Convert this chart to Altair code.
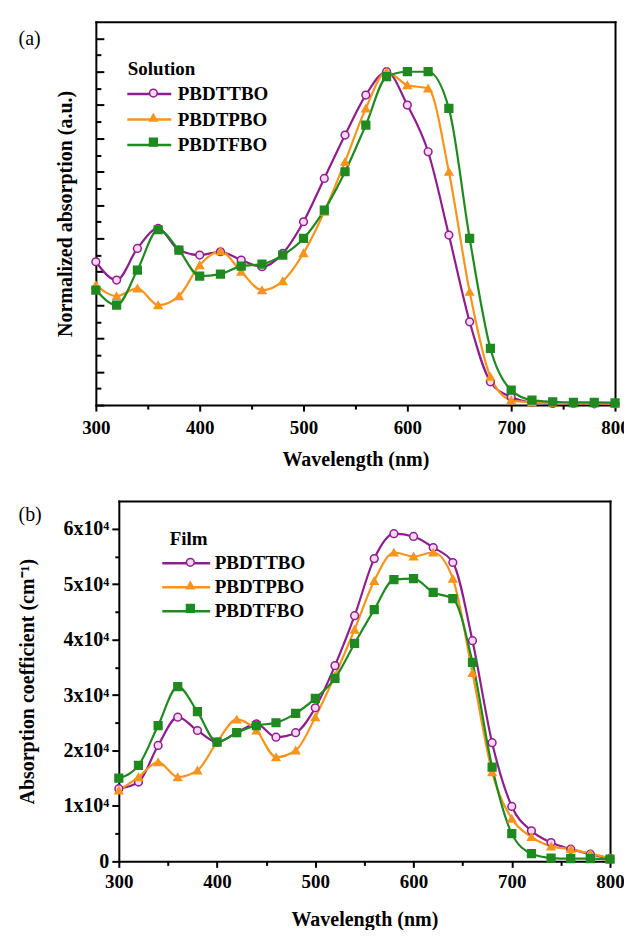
import altair as alt
import pandas as pd

FONT = "Liberation Serif"

wavelength = [300, 320, 340, 360, 380, 400, 420, 440, 460, 480, 500, 520, 540,
              560, 580, 600, 620, 640, 660, 680, 700, 720, 740, 760, 780, 800]

series_names = ["PBDTTBO", "PBDTPBO", "PBDTFBO"]
line_colors = ["#8E1E8E", "#F7941D", "#1F8A1F"]
marker_fills = ["#F6D8F2", "#F7941D", "#1F8A1F"]
marker_shapes = ["circle", "triangle-up", "square"]

# (a) Solution, normalized absorption
sol_ttbo = [0.43, 0.375, 0.47, 0.53, 0.465, 0.45, 0.46, 0.435, 0.415, 0.455, 0.55, 0.68, 0.81,
            0.93, 1.0, 0.90, 0.76, 0.51, 0.25, 0.07, 0.024, 0.008, 0.005, 0.005, 0.004, 0.004]
sol_tpbo = [0.36, 0.327, 0.35, 0.30, 0.327, 0.42, 0.462, 0.40, 0.345, 0.372, 0.456, 0.58, 0.73,
            0.89, 1.0, 0.96, 0.95, 0.70, 0.34, 0.085, 0.015, 0.008, 0.006, 0.005, 0.005, 0.004]
sol_tfbo = [0.345, 0.30, 0.405, 0.526, 0.465, 0.387, 0.393, 0.417, 0.423, 0.45, 0.50, 0.585, 0.70,
            0.84, 0.985, 1.0, 1.0, 0.89, 0.50, 0.17, 0.045, 0.015, 0.01, 0.008, 0.008, 0.007]

# (b) Film, absorption coefficient (cm^-1)
film_ttbo = [13100, 14300, 20900, 26000, 23600, 21500, 23200, 24800, 22400, 23200, 27700, 35300, 44300,
             54600, 59100, 58600, 56600, 53900, 39800, 21400, 9900, 5500, 3400, 2200, 1300, 500]
film_tpbo = [12800, 15200, 17900, 15200, 16400, 21500, 25600, 23600, 18800, 20000, 26000, 33500, 41800,
             50600, 55700, 55000, 55700, 51000, 34000, 16100, 7700, 4400, 2700, 2200, 1400, 600]
film_tfbo = [15000, 17300, 24500, 31500, 27000, 21500, 23200, 24500, 25000, 26700, 29400, 33000, 39300,
             45400, 50800, 51000, 48500, 47400, 35900, 17000, 5000, 1400, 600, 500, 500, 400]

# line-legend keys differ invisibly from marker-legend keys so the two legends stay separate
line_keys = [n + "\u200b" for n in series_names]


def long_table(cols):
    rows = []
    for name, key, vals in zip(series_names, line_keys, cols):
        for w, v in zip(wavelength, vals):
            rows.append({"wl": w, "val": v, "series": name, "series_l": key})
    return pd.DataFrame(rows)


df_a = long_table([sol_ttbo, sol_tpbo, sol_tfbo])
df_b = long_table([film_ttbo, film_tpbo, film_tfbo])

LEG_COMMON = dict(orient="none", padding=0, labelFont=FONT, labelFontSize=19, labelFontWeight="bold",
                  titleFont=FONT, titleFontSize=19, titleFontWeight="bold",
                  labelColor="black", titleColor="black")

NOAX = dict(labels=False, title=None, grid=False)
ORIGIN_X = 98  # nominal page x of every panel's group origin (used for relative placements)
TAG_LEFT = 20  # nominal page x of the "(a)" / "(b)" tags


def panel(df, width, shift, height, ydom, ymajor, yminor, ytitle, ylabels, yinward,
          leg_title, leg_title_left, leg_line_left, leg_line_right, leg_text_left, leg_y,
          row_pad, title_pad, tag, tag_y, x_label_pad, x_title_pad, y_title_pad):
    xscale = alt.Scale(domain=[300, 800], nice=False, zero=False, range=[shift, width])
    yscale = alt.Scale(domain=ydom, nice=False, zero=False)
    base = alt.Chart(df)
    off = -shift

    x_major = alt.Axis(orient="bottom", values=list(range(300, 801, 100)), tickSize=6, tickWidth=2,
                       domainWidth=2, domainCap="square", labelPadding=x_label_pad, labelFlush=False,
                       labelFontSize=19, title="Wavelength (nm)", titlePadding=x_title_pad, grid=False)
    if ylabels:
        y_major = alt.Axis(values=ymajor, orient="left", offset=off, tickSize=7, tickWidth=2,
                           domainWidth=2, domainCap="square", labelFlush=False, labelFontSize=20,
                           labelExpr="datum.value == 0 ? '0' : format(datum.value / 10000, 'd') + 'x10\u2074'",
                           labelPadding=3, title=ytitle, titlePadding=y_title_pad, grid=False)
    else:
        y_major = alt.Axis(values=ymajor, orient="left", offset=off, ticks=False, labels=False,
                           domainWidth=2, domainCap="square",
                           title=ytitle, titlePadding=y_title_pad, grid=False)

    # legend geometry (line symbol is a custom path, r = 9 px)
    leg_x = leg_title_left - ORIGIN_X
    c = leg_title_left + 9
    p0 = (leg_line_left - c) / 9.0
    p1 = (leg_line_right - c) / 9.0
    line_path = "M%.3f,0H%.3f" % (p0, p1)
    label_off = leg_text_left - (leg_title_left + 18)
    mid = (leg_line_left + leg_line_right) / 2.0

    lines = base.mark_line(interpolate="monotone", strokeWidth=2.2).encode(
        x=alt.X("wl:Q", scale=xscale, axis=x_major),
        y=alt.Y("val:Q", scale=yscale, axis=y_major),
        color=alt.Color("series_l:N", scale=alt.Scale(domain=line_keys, range=line_colors),
                        legend=alt.Legend(title=leg_title, legendX=leg_x, legendY=leg_y,
                                          symbolType=line_path, symbolSize=324,
                                          symbolStrokeWidth=2.5, rowPadding=row_pad,
                                          labelOffset=label_off, titlePadding=title_pad, **LEG_COMMON)),
    )

    pts = base.mark_point(filled=True, size=60, strokeWidth=1.5, opacity=1).encode(
        x=alt.X("wl:Q", scale=xscale, axis=None),
        y=alt.Y("val:Q", scale=yscale, axis=None),
        shape=alt.Shape("series:N", scale=alt.Scale(domain=series_names, range=marker_shapes),
                        legend=alt.Legend(title="\u00a0", legendX=mid - 3.87 - ORIGIN_X, legendY=leg_y,
                                          labelExpr="'\u00a0'", symbolSize=60,
                                          symbolStrokeWidth=1.5, rowPadding=row_pad, labelOffset=6,
                                          titlePadding=title_pad, **LEG_COMMON)),
        fill=alt.Fill("series:N", scale=alt.Scale(domain=series_names, range=marker_fills), legend=None),
        stroke=alt.Stroke("series:N", scale=alt.Scale(domain=series_names, range=line_colors), legend=None),
    )

    # box top / right edges and minor ticks; the panel tag rides on the tick axis as its title
    tag_style = dict(title=tag, titleAngle=0, titleAlign="left", titleBaseline="top", titleY=tag_y,
                     titleFontWeight="normal", titleFontSize=20, labels=False, grid=False, domain=False)
    x_top = alt.Axis(orient="top", ticks=False, domainWidth=2, domainCap="square", **NOAX)
    x_minor = alt.Axis(orient="bottom", values=list(range(350, 800, 100)), tickSize=4, tickWidth=2,
                       domain=False, **NOAX)
    y_right = alt.Axis(orient="right", ticks=False, domainWidth=2, domainCap="square", **NOAX)
    if yinward:
        # axis group sits at x = 0 (offset -width on a right axis)
        y_t1 = alt.Axis(values=ymajor, orient="right", offset=-width, tickSize=8, tickWidth=2,
                        titleX=TAG_LEFT - ORIGIN_X, **tag_style)
        y_t2 = alt.Axis(values=yminor, orient="right", offset=-width, tickSize=5, tickWidth=2,
                        domain=False, **NOAX)
    else:
        # axis group sits at x = shift
        y_t1 = alt.Axis(values=yminor, orient="left", offset=off, tickSize=4, tickWidth=2,
                        titleX=TAG_LEFT - ORIGIN_X - shift, **tag_style)
        y_t2 = None

    def ghost(xax, yax):
        return base.mark_point(opacity=0, size=1).encode(
            x=alt.X("wl:Q", scale=xscale, axis=xax),
            y=alt.Y("val:Q", scale=yscale, axis=yax),
        )

    layers = [lines, pts, ghost(x_top, y_t1), ghost(x_minor, y_right)]
    if y_t2 is not None:
        layers.append(ghost(None, y_t2))

    return alt.layer(*layers).resolve_axis(x="independent", y="independent").properties(
        width=width, height=height)


a_major = [round(0.1 * i, 2) for i in range(0, 12)]
a_minor = [round(0.05 + 0.1 * i, 2) for i in range(0, 11)]
b_major = list(range(0, 60001, 10000))
b_minor = list(range(5000, 60001, 10000))

pa = panel(df_a, 520, 0, 384, [0, 1.15], a_major, a_minor, "Normalized absorption (a.u.)", False, True,
           "Solution", 130, 128, 172, 177, 38, 4.5, 5, "(a)", 7, 7, 12, 20)
pb = panel(df_b, 515, 23, 361, [0, 65000], b_major, b_minor, "Absorption coefficient (cm\u207b\u00b9)", True, False,
           "Film", 172, 163, 211, 214, 29, 3, 4, "(b)", 4, 5, 18, 25)

chart = alt.vconcat(pa, pb, spacing=32).resolve_scale(
    color="independent", shape="independent", fill="independent", stroke="independent"
).properties(
    padding={"left": 10, "top": 13, "right": -6, "bottom": 0}
).configure_view(stroke=None).configure_axis(
    minExtent=0,
    domainColor="black", tickColor="black", labelColor="black", titleColor="black",
    labelFont=FONT, labelFontSize=19, labelFontWeight="bold",
    titleFont=FONT, titleFontSize=20, titleFontWeight="bold",
)

chart.save("out.html", embed_options={"renderer": "svg", "actions": False})
